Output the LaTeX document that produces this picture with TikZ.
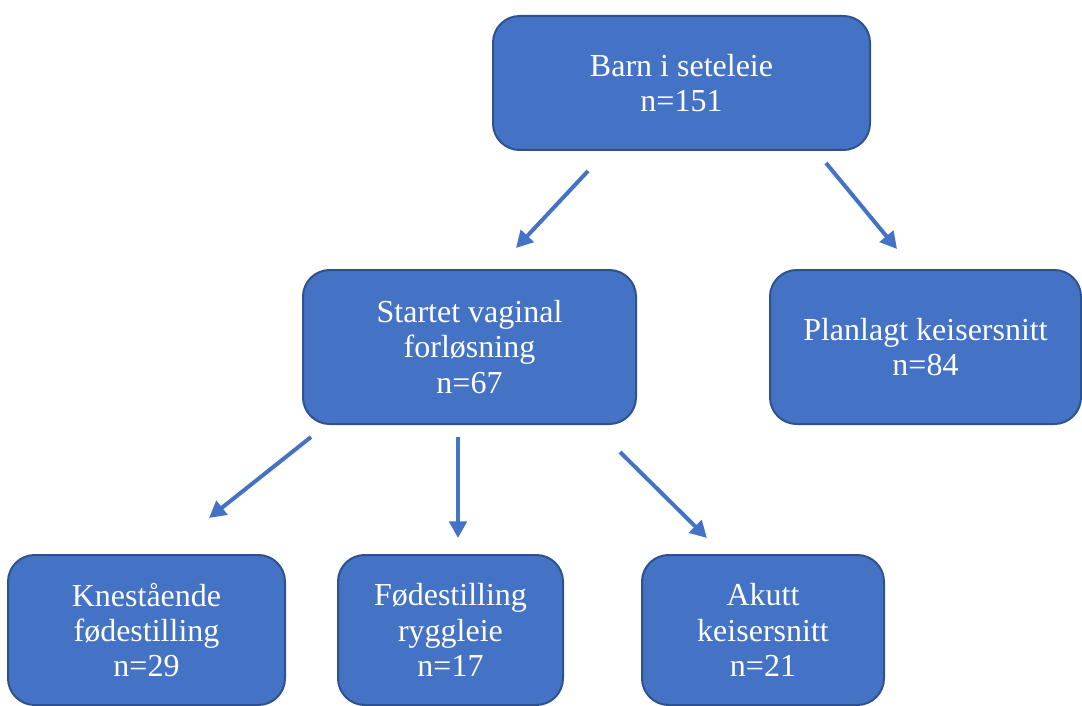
\documentclass[tikz,border=0pt]{standalone}
\usepackage{fontspec}
\setmainfont{Liberation Serif}
\usetikzlibrary{arrows.meta}

\begin{document}
\begin{tikzpicture}[x=0.75pt, y=-0.75pt,
    box/.style={draw=boxline, fill=boxfill, line width=1.5pt, rounded corners=20pt,
      text=white, align=center, inner sep=0pt,
      font=\fontsize{24}{26.5}\selectfont},
    flow/.style={draw=boxfill, line width=3pt,
      -{Triangle[length=12.5pt, width=13pt]}}]
    \definecolor{boxfill}{HTML}{4472C4}
    \definecolor{boxline}{HTML}{2F528F}
    \useasboundingbox (0,0) rectangle (1082,706);

    % boxes
    \node[box, minimum width=377*0.75pt, minimum height=134*0.75pt] (barn) at (681.5,83)
      {Barn i seteleie\\n=151};
    \node[box, minimum width=333*0.75pt, minimum height=154*0.75pt] (vaginal) at (469.5,347)
      {Startet vaginal\\forløsning\\n=67};
    \node[box, minimum width=311*0.75pt, minimum height=154*0.75pt] (planlagt) at (925.5,347)
      {Planlagt keisersnitt\\n=84};
    \node[box, minimum width=277*0.75pt, minimum height=150*0.75pt] (kne) at (146.5,630)
      {Knestående\\fødestilling\\n=29};
    \node[box, minimum width=225*0.75pt, minimum height=150*0.75pt] (rygg) at (450.5,630)
      {Fødestilling\\ryggleie\\n=17};
    \node[box, minimum width=242*0.75pt, minimum height=150*0.75pt] (akutt) at (763,630)
      {Akutt\\keisersnitt\\n=21};

    % arrow ends
    \coordinate (barn-l) at (588,171);
    \coordinate (barn-r) at (826,163);
    \coordinate (vaginal-in) at (516,248);
    \coordinate (planlagt-in) at (897,249);
    \coordinate (vaginal-l) at (311,437);
    \coordinate (vaginal-m) at (458,437);
    \coordinate (vaginal-r) at (620,452);
    \coordinate (kne-in) at (209,518);
    \coordinate (rygg-in) at (458,538);
    \coordinate (akutt-in) at (707,538);

    \draw[flow] (barn-l) -- (vaginal-in);
    \draw[flow] (barn-r) -- (planlagt-in);
    \draw[flow] (vaginal-l) -- (kne-in);
    \draw[flow] (vaginal-m) -- (rygg-in);
    \draw[flow] (vaginal-r) -- (akutt-in);
\end{tikzpicture}
\end{document}
